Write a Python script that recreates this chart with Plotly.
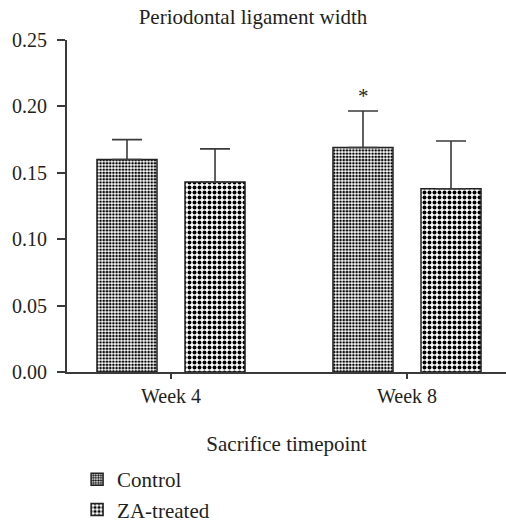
import plotly.graph_objects as go

categories = ["Week 4", "Week 8"]
control_values = [0.160, 0.169]
control_err = [0.015, 0.0275]
za_values = [0.143, 0.138]
za_err = [0.025, 0.036]
y_ticks = [0.00, 0.05, 0.10, 0.15, 0.20, 0.25]
y_ticklabels = ["0.00", "0.05", "0.10", "0.15", "0.20", "0.25"]

FONT = "Liberation Serif"
TXT = "#231f20"
AX = "#3a3a3a"

fig = go.Figure()
fig.add_trace(go.Bar(
    name="Control", x=categories, y=control_values,
    error_y=dict(type="data", symmetric=False, array=control_err,
                 arrayminus=[0, 0], color=AX, thickness=1.6, width=15),
    marker=dict(color="white", line=dict(color="#222", width=1.5),
                pattern=dict(shape=".", size=3.2, solidity=0.5,
                             fgcolor="black", bgcolor="white", fillmode="replace")),
))
fig.add_trace(go.Bar(
    name="ZA-treated", x=categories, y=za_values,
    error_y=dict(type="data", symmetric=False, array=za_err,
                 arrayminus=[0, 0], color=AX, thickness=1.6, width=15),
    marker=dict(color="white", line=dict(color="#222", width=1.5),
                pattern=dict(shape=".", size=5, solidity=0.5,
                             fgcolor="black", bgcolor="white", fillmode="replace")),
))

fig.add_annotation(x="Week 8", y=control_values[1] + control_err[1], xref="x", yref="y",
                   text="*", showarrow=False, xshift=-44, yanchor="bottom", yshift=1,
                   font=dict(family=FONT, size=21, color=TXT))

fig.update_layout(
    width=506, height=527,
    margin=dict(l=67, r=0, t=40, b=155, autoexpand=False),
    paper_bgcolor="white", plot_bgcolor="white",
    barmode="group", bargap=0.254, bargroupgap=0.318,
    font=dict(family=FONT, size=21, color=TXT),
    title=dict(text="Periodontal ligament width", x=0.5, xanchor="center",
               y=0.968, yanchor="middle", font=dict(family=FONT, size=21, color=TXT)),
    showlegend=True,
    legend=dict(x=0.023, y=-0.262, xanchor="left", yanchor="top",
                font=dict(family=FONT, size=21, color=TXT),
                bgcolor="rgba(0,0,0,0)", tracegroupgap=0),
)
fig.update_xaxes(
    type="category", range=[-0.4407, 1.4195], showgrid=False, zeroline=False,
    showline=True, linecolor=AX, linewidth=1.8,
    ticks="outside", ticklen=5, tickwidth=1.5, tickcolor=AX,
    tickfont=dict(family=FONT, size=20, color=TXT),
    title=dict(text="Sacrifice timepoint", standoff=30,
               font=dict(family=FONT, size=21, color=TXT)),
)
fig.update_yaxes(
    range=[0, 0.25], tickvals=y_ticks, ticktext=y_ticklabels,
    showgrid=False, zeroline=False, showline=True, linecolor=AX, linewidth=1.8,
    ticks="outside", ticklen=8, tickwidth=1.5, tickcolor=AX, ticklabelstandoff=6,
    tickfont=dict(family=FONT, size=20, color=TXT),
)

fig.write_html("out.html", config={"displayModeBar": False},
               post_script="document.body.style.margin='0';")
